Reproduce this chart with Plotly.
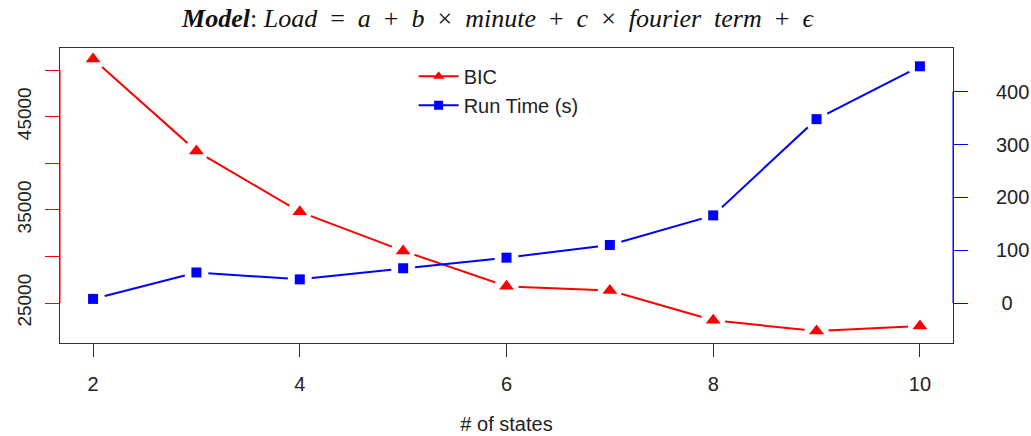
import plotly.graph_objects as go

states = [2, 3, 4, 5, 6, 7, 8, 9, 10]
bic = [51180, 41300, 34780, 30590, 26790, 26330, 23140, 21990, 22530]
run_time = [8, 58, 45, 66, 86, 110, 166, 348, 448]

x_ticks = [2, 4, 6, 8, 10]
left_ticks = [25000, 30000, 35000, 40000, 45000, 50000]
left_text = ["25000", "", "35000", "", "45000", ""]
right_ticks = [0, 100, 200, 300, 400]
right_text = ["\u00a00", "100", "200", "300", "400"]

RED = "#ff0000"
BLUE = "#0000ff"
BOX = "#333333"
GAP = "#ffffff"
FONT = "Liberation Sans, Arial, sans-serif"
SP = "&nbsp;"

fig = go.Figure()

# connecting lines
fig.add_trace(go.Scatter(x=states, y=bic, mode="lines", line=dict(color=RED, width=2),
                         showlegend=False, hoverinfo="skip"))
fig.add_trace(go.Scatter(x=states, y=run_time, yaxis="y2", mode="lines",
                         line=dict(color=BLUE, width=2), showlegend=False, hoverinfo="skip"))
# gaps around points (R type="b")
fig.add_trace(go.Scatter(x=states, y=bic, mode="markers",
                         marker=dict(color=GAP, size=24, symbol="circle", line=dict(width=0)),
                         showlegend=False, hoverinfo="skip"))
fig.add_trace(go.Scatter(x=states, y=run_time, yaxis="y2", mode="markers",
                         marker=dict(color=GAP, size=24, symbol="circle", line=dict(width=0)),
                         showlegend=False, hoverinfo="skip"))
# markers
fig.add_trace(go.Scatter(x=states, y=bic, mode="markers",
                         marker=dict(color=RED, size=13, symbol="triangle-up"),
                         showlegend=False))
fig.add_trace(go.Scatter(x=states, y=run_time, yaxis="y2", mode="markers",
                         marker=dict(color=BLUE, size=10, symbol="square"),
                         showlegend=False))
# legend entries
fig.add_trace(go.Scatter(x=[None], y=[None], mode="lines+markers", name="BIC",
                         line=dict(color=RED, width=2),
                         marker=dict(color=RED, size=10, symbol="triangle-up")))
fig.add_trace(go.Scatter(x=[None], y=[None], mode="lines+markers", name="Run Time (s)",
                         line=dict(color=BLUE, width=2),
                         marker=dict(color=BLUE, size=9, symbol="square")))

title_text = (
    "<b><i>Model</i></b>:" + SP + "<i>Load</i>" + SP * 2 + "=" + SP * 2 + "<i>a</i>" + SP * 2 + "+"
    + SP * 2 + "<i>b</i>" + SP * 2 + "×" + SP * 2 + "<i>minute</i>" + SP * 2 + "+" + SP * 2
    + "<i>c</i>" + SP * 2 + "×" + SP * 2 + "<i>fourier" + SP * 2 + "term</i>" + SP * 2 + "+"
    + SP * 2 + "<i>ϵ</i>"
)

fig.update_layout(
    width=1031, height=436,
    margin=dict(l=60, r=78, t=48, b=93, autoexpand=False),
    paper_bgcolor="white", plot_bgcolor="white",
    font=dict(family=FONT, size=20, color="#222222"),
    title=dict(
        text=title_text,
        x=0.4825, xanchor="center", y=0.96, yanchor="middle",
        font=dict(family="Liberation Serif, Times New Roman, serif", size=26, color="#111111"),
    ),
    xaxis=dict(
        range=[1.68, 10.32], tickvals=x_ticks, ticks="outside", ticklen=13, tickcolor=BOX,
        showline=True, linecolor=BOX, linewidth=1, mirror=True, showgrid=False, zeroline=False,
        ticklabelstandoff=10, automargin=False,
        title=dict(text="# of states", font=dict(size=20), standoff=22),
    ),
    yaxis=dict(
        range=[20708, 52360], tickvals=left_ticks, ticktext=left_text, tickangle=-90,
        ticks="outside", ticklen=14, tickcolor=RED, tickfont=dict(size=19),
        showline=True, linecolor=BOX, linewidth=1, mirror=True, showgrid=False, zeroline=False,
        ticklabelstandoff=6, automargin=False,
    ),
    yaxis2=dict(
        range=[-75.4, 482.6], tickvals=right_ticks, ticktext=right_text,
        overlaying="y", side="right",
        ticks="outside", ticklen=14, tickcolor=BLUE, ticklabelstandoff=24,
        showline=False, showgrid=False, zeroline=False, automargin=False,
    ),
    legend=dict(x=0.396, y=0.97, xanchor="left", yanchor="top", bgcolor="rgba(0,0,0,0)",
                font=dict(size=20), tracegroupgap=0, itemwidth=40),
    shapes=[
        dict(type="line", xref="paper", yref="y", x0=0, x1=0, y0=25000, y1=50000,
             line=dict(color=RED, width=1)),
        dict(type="line", xref="paper", yref="y2", x0=1, x1=1, y0=0, y1=400,
             line=dict(color=BLUE, width=1)),
    ],
)

fig.write_html("out.html")
